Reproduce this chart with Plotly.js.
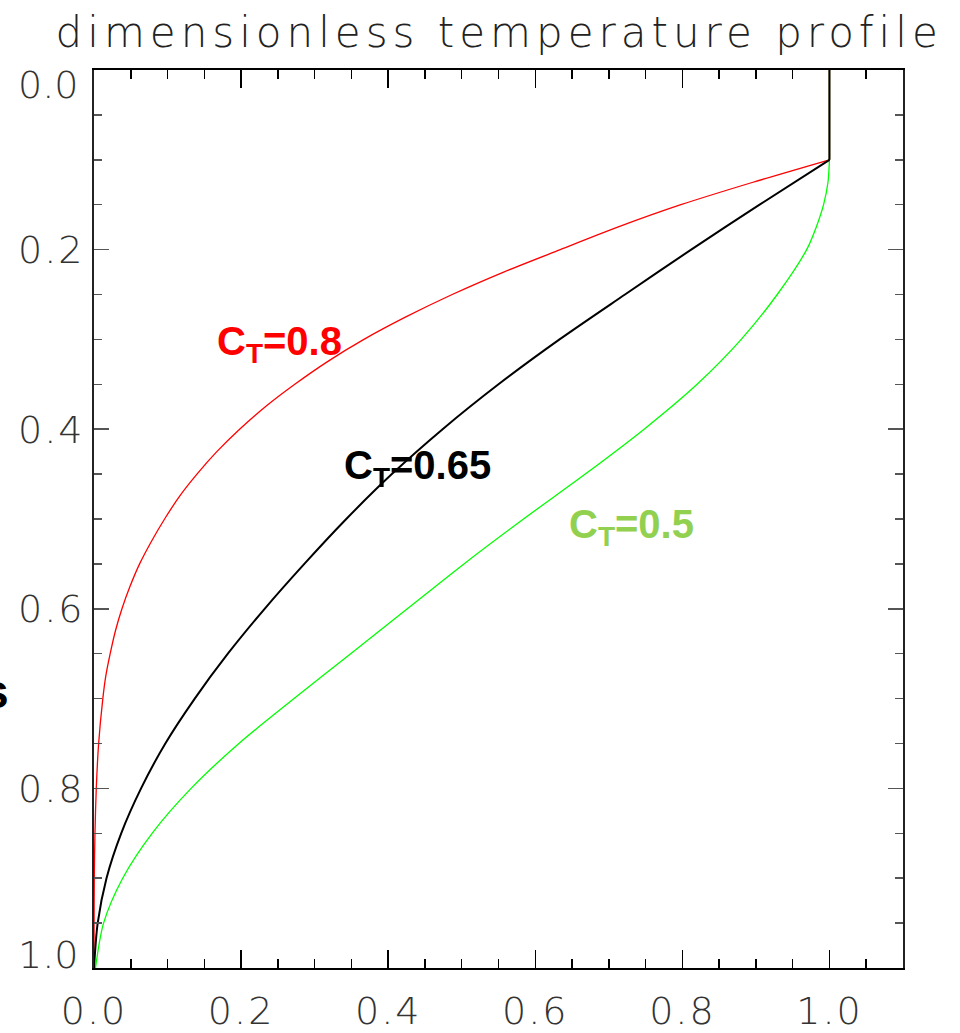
<!DOCTYPE html>
<html>
<head>
<meta charset="utf-8">
<script src="https://cdn.plot.ly/plotly-3.0.1.min.js"></script>
<style>
  html, body { margin: 0; padding: 0; background: #fff; }
  #chart { width: 960px; height: 1033px; }
  .gtitle { letter-spacing: 5px; }
  .xtick text, .ytick text, .annotation-text.ticklab { letter-spacing: 2px; }
</style>
</head>
<body>
<div id="chart"></div>
<script>
// ---- data ----
const titleText = 'dimensionless temperature profile';
const yLabelText = 's';

const xTickVals = [0, 0.2, 0.4, 0.6, 0.8, 1.0];
const xTickText = ['0.0', '0.2', '0.4', '0.6', '0.8', '1.0'];
const yTickVals = [0.2, 0.4, 0.6, 0.8];
const yTickText = ['0.2', '0.4', '0.6', '0.8'];
const yEdgeTickVals = [0.0, 1.0];
const yEdgeTickText = ['0.0', '1.0'];

// C_T = 0.8 (red): x (temperature) read at each depth s
const redY = [0, 0.1, null, 0.1, 0.125, 0.15, 0.175, 0.2, 0.225, 0.25, 0.275, 0.3, 0.325, 0.35, 0.375, 0.4, 0.425, 0.45, 0.475, 0.5, 0.525, 0.55, 0.575, 0.6, 0.625, 0.65, 0.675, 0.7, 0.75, 0.8, 0.85, 0.9, 0.95, 1.0];
const redX = [1, 1, null, 1, 0.896, 0.798, 0.712, 0.634, 0.557, 0.487, 0.424, 0.367, 0.317, 0.273, 0.233, 0.198, 0.167, 0.140, 0.116, 0.096, 0.078, 0.062, 0.049, 0.038, 0.029, 0.022, 0.016, 0.012, 0.0063, 0.0031, 0.0013, 0.0004, 0.0001, 0];

// C_T = 0.65 (black)
const blackY = [0, 0.1, null, 0.1, 0.15, 0.2, 0.25, 0.3, 0.35, 0.4, 0.45, 0.5, 0.55, 0.6, 0.65, 0.7, 0.75, 0.8, 0.85, 0.9, 0.95, 1.0];
const blackX = [1, 1, null, 1, 0.905, 0.812, 0.722, 0.633, 0.550, 0.474, 0.405, 0.343, 0.286, 0.232, 0.182, 0.137, 0.097, 0.064, 0.037, 0.017, 0.005, 0];

// C_T = 0.5 (green)
const greenY = [0, 0.1, null, 0.1, 0.125, 0.15, 0.175, 0.2, 0.25, 0.3, 0.35, 0.4, 0.45, 0.5, 0.55, 0.6, 0.65, 0.7, 0.75, 0.8, 0.85, 0.9, 0.95, 1.0];
const greenX = [1, 1, null, 1, 0.998, 0.992, 0.982, 0.969, 0.929, 0.880, 0.820, 0.748, 0.668, 0.584, 0.503, 0.426, 0.349, 0.272, 0.197, 0.132, 0.079, 0.039, 0.013, 0.002];

// curve labels
const labelTexts = ['C<sub>T</sub>=0.8', 'C<sub>T</sub>=0.65', 'C<sub>T</sub>=0.5'];
const labelX = [0.1646, 0.3377, 0.6437];
const labelY = [0.3052, 0.4428, 0.5090];
const labelColors = ['#ff0000', '#000000', '#92d050'];

// ---- chart ----
const thinFont = { family: 'DejaVu Sans, sans-serif', size: 38, color: '#333', weight: 200 };

const traces = [
  { x: greenX, y: greenY, mode: 'lines', line: { color: '#00ff00', width: 1.3, shape: 'spline', smoothing: 0.8 }, connectgaps: false, hoverinfo: 'skip' },
  { x: redX, y: redY, mode: 'lines', line: { color: '#ff0000', width: 1.3, shape: 'spline', smoothing: 0.8 }, connectgaps: false, hoverinfo: 'skip' },
  { x: blackX, y: blackY, mode: 'lines', line: { color: '#000000', width: 2, shape: 'spline', smoothing: 0.8 }, connectgaps: false, hoverinfo: 'skip' }
];

const annotations = [];
for (let i = 0; i < labelTexts.length; i++) {
  annotations.push({
    text: labelTexts[i], x: labelX[i], y: labelY[i], xref: 'x', yref: 'y',
    xanchor: 'left', yanchor: 'middle', showarrow: false,
    font: { family: 'Liberation Sans, Arial, sans-serif', size: 40, color: labelColors[i], weight: 'bold' }
  });
}
// y tick labels at the two ends (pulled inward as in the reference)
for (let i = 0; i < yEdgeTickVals.length; i++) {
  annotations.push({
    text: yEdgeTickText[i], x: 0, y: yEdgeTickVals[i], xref: 'paper', yref: 'y',
    xanchor: 'right', yanchor: 'middle', xshift: -14, yshift: i === 0 ? -15 : 13,
    showarrow: false, font: thinFont
  });
}
// y axis label "s" (mostly outside the picture, as in the reference)
annotations.push({
  text: yLabelText, x: 0, y: 0.6918, xref: 'paper', yref: 'y',
  xanchor: 'right', yanchor: 'middle', xshift: -83, showarrow: false,
  font: { family: 'Liberation Sans, Arial, sans-serif', size: 48, color: '#000', weight: 'bold' }
});

const layout = {
  width: 960, height: 1033,
  margin: { l: 94, r: 57, t: 70, b: 65, pad: 0 },
  paper_bgcolor: '#fff', plot_bgcolor: '#fff',
  showlegend: false,
  title: {
    text: titleText, xref: 'container', yref: 'container',
    x: 0.52, y: 0.9687, xanchor: 'center', yanchor: 'middle',
    font: { family: 'DejaVu Sans, sans-serif', size: 42, color: '#222', weight: 200 }
  },
  xaxis: {
    range: [0, 1.1], showgrid: false, zeroline: false,
    showline: true, linecolor: '#000', linewidth: 2, mirror: 'ticks',
    ticks: 'inside', ticklen: 18, tickwidth: 1.5, tickcolor: '#000',
    tickvals: xTickVals, ticktext: xTickText, tickfont: thinFont,
    ticklabelstandoff: 8,
    minor: { dtick: 0.05, tick0: 0, ticks: 'inside', ticklen: 9, tickwidth: 1.5, tickcolor: '#000', showgrid: false }
  },
  yaxis: {
    range: [1, 0], showgrid: false, zeroline: false,
    showline: true, linecolor: '#222', linewidth: 2, mirror: 'ticks',
    ticks: 'inside', ticklen: 15, tickwidth: 1.5, tickcolor: '#555',
    tickvals: yTickVals, ticktext: yTickText, tickfont: thinFont,
    ticklabelstandoff: 0,
    minor: { dtick: 0.05, tick0: 0, ticks: 'inside', ticklen: 8, tickwidth: 1.5, tickcolor: '#555', showgrid: false }
  },
  annotations: annotations
};

Plotly.newPlot('chart', traces, layout, { staticPlot: true, displayModeBar: false });
</script>
</body>
</html>
